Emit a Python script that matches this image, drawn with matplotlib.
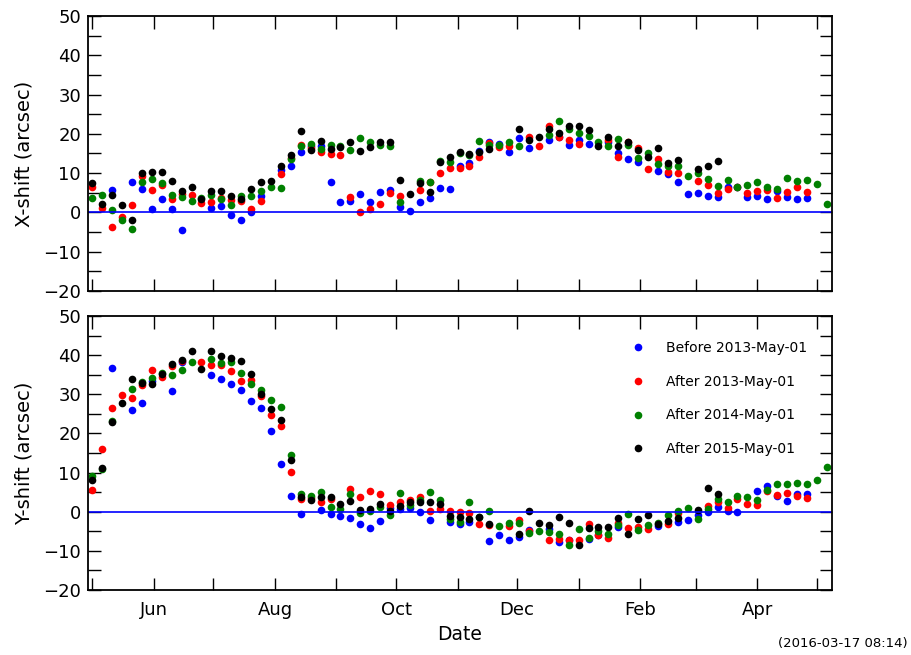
import matplotlib
matplotlib.use('Agg')
import matplotlib.pyplot as plt
import matplotlib.dates as mdates
from matplotlib.ticker import MultipleLocator
import numpy as np
import pandas as pd

nan = np.nan

# observation dates, one every 5 days
dates = pd.date_range('2014-05-01', periods=75, freq='5D')

labels = ['Before 2013-May-01', 'After 2013-May-01', 'After 2014-May-01', 'After 2015-May-01']
colors = ['blue', 'red', 'green', 'black']

# X-shift (arcsec)
x_before13 = [nan, nan, 5.8, nan, 7.8, 6.0, 1.0, 3.3, 1.0, -4.4, nan, nan, 1.2, 1.6, -0.6, -2.0, 0.2, 4.2, nan, 10.8,
              11.9, 15.4, 16.8, 16.8, 7.7, 2.6, 3.0, 4.7, 2.7, 5.2, 5.7, 1.5, 0.4, 2.6, 3.8, 6.2, 6.0, 11.7, 12.5, 15.7,
              18.0, 17.4, 15.5, 18.9, 16.3, nan, 18.5, 19.3, 17.2, 18.5, 17.4, nan, 18.0, 15.1, 13.5, 12.9, nan, 10.6, 9.7, 7.8,
              4.8, 4.9, 4.3, 4.0, 6.6, 6.6, 4.0, 4.3, 3.4, 5.5, 4.0, 3.5, 3.8, nan, nan]
x_after13 = [6.4, 1.2, -3.7, -1.1, 2.0, 9.3, 5.6, 6.9, 3.3, 4.7, 4.5, 2.5, 2.6, 3.8, 3.1, 2.9, 1.0, 3.0, nan, 9.8,
             13.9, 17.1, 16.3, 15.5, 14.8, 14.6, 4.0, 0.0, 0.8, 2.1, 4.9, 4.3, nan, 5.7, 7.8, 10.0, 11.4, 11.3, 11.7, 14.0,
             17.6, 16.6, 17.0, nan, 19.1, 16.8, 22.0, 19.3, 18.4, 17.5, nan, nan, 18.5, 14.2, 17.8, 16.5, 11.0, 13.5, 10.3, 10.0,
             nan, 8.1, 7.1, 5.0, 6.0, 6.6, 5.0, 5.4, 5.7, 3.8, 5.2, 6.4, 5.3, nan, nan]
x_after14 = [3.8, 4.5, 0.7, -2.0, -4.1, 7.8, 8.5, 7.6, 4.5, 4.0, 2.8, 3.7, 4.5, 3.4, 1.8, 4.1, 4.3, 5.4, 6.6, 6.1,
             13.6, 16.8, 17.4, 16.2, 17.2, 17.0, 15.9, 18.9, 17.8, 17.2, 17.0, 2.6, nan, 8.0, 7.7, 13.0, 12.9, 15.1, 14.6, 18.2,
             17.2, 17.2, 17.9, 17.0, nan, nan, 19.7, 23.2, 21.3, 20.1, 19.5, 17.9, 16.9, 18.8, 17.2, 13.8, 15.1, 12.3, 11.7, 11.7,
             9.4, 10.0, 8.5, 6.7, 8.2, 6.6, 6.9, 7.7, 6.4, 6.0, 8.7, 7.9, 8.3, 7.2, 2.2]
x_after15 = [7.4, 2.1, 4.5, 1.9, -2.0, 10.0, 10.4, 10.2, 7.9, 5.5, 6.4, 3.3, 5.5, 5.4, 4.2, 3.4, 6.0, 7.8, 8.0, 11.7,
             14.6, 20.6, 15.9, 18.3, 16.1, 16.7, 17.8, 15.7, 16.6, 17.9, 17.9, 8.2, 4.8, 7.5, 5.1, 12.9, 14.1, 15.4, 14.8, 15.5,
             16.2, nan, nan, 21.2, 18.5, 19.3, 21.3, 20.2, 22.0, 22.1, 20.9, 16.8, 19.1, 16.9, 18.0, 15.9, 14.0, 16.5, 12.7, 13.4,
             nan, 11.0, 11.8, 13.2, nan, nan, nan, nan, nan, nan, nan, nan, nan, nan, nan]

# Y-shift (arcsec)
y_before13 = [nan, nan, 36.7, nan, 26.1, 27.8, 33.3, nan, 30.9, 38.2, nan, nan, 34.8, 34.0, 32.5, 31.1, 28.2, 26.5, 20.6, 12.2,
              3.9, -0.5, nan, 0.5, -0.5, -1.1, -1.7, -3.2, -4.2, -2.3, 0.9, 0.7, 0.9, 0.0, -2.1, nan, -2.5, -3.2, -2.5, nan,
              -7.4, -6.0, -7.3, -6.5, -4.6, nan, -4.3, -7.8, -7.2, nan, -6.9, -6.0, nan, -3.9, nan, nan, nan, -3.7, nan, -2.6,
              -2.0, -0.9, 0.0, 1.1, 0.3, 0.0, nan, 5.4, 6.6, 4.1, 2.8, 4.6, 4.6, nan, nan]
y_after13 = [5.6, 16.0, 26.4, 29.8, 29.0, 32.3, 36.3, 34.3, 37.1, 38.4, nan, 38.2, 37.5, 37.4, 36.0, 33.5, 33.7, 29.6, 24.6, 21.8,
             10.1, 3.3, 3.5, 2.6, 3.2, nan, 5.9, 3.8, 5.3, 4.6, 1.8, 2.6, 2.9, 3.7, 0.3, 0.7, 0.1, -0.1, -0.2, -3.2,
             -3.5, nan, -3.6, -2.2, -5.0, nan, -7.3, -6.9, -7.2, -7.2, -3.2, -5.9, -6.7, -2.9, -4.2, -3.9, -4.3, nan, -3.1, -0.3,
             nan, nan, 1.5, 2.6, 0.9, 3.3, 2.0, 1.6, 5.2, 4.3, 4.9, 4.1, 3.5, nan, nan]
y_after14 = [9.2, 10.9, 23.1, nan, 31.3, 33.2, 34.2, 35.4, 34.8, 36.2, 38.2, nan, 39.0, 38.1, 38.2, 35.5, 32.7, 31.1, 28.6, 26.8,
             14.6, 4.6, 4.1, 5.0, 1.2, 0.6, 4.5, -0.3, 0.1, 1.2, -0.9, 4.9, 1.8, 2.9, 5.0, 2.9, -1.8, -2.5, 2.5, -1.4,
             0.1, -3.7, -2.9, -3.0, -5.5, -4.9, -5.3, -5.7, -8.5, -4.3, -6.6, -5.0, -5.6, -3.3, -0.5, -4.6, -3.3, -2.9, -0.8, 0.3,
             0.9, -1.9, 0.7, 3.2, 2.4, 4.1, 3.7, 3.1, 5.6, 7.1, 7.1, 7.4, 7.2, 8.2, 11.3]
y_after15 = [8.2, 11.2, 22.9, 27.7, 33.8, 33.0, 32.5, 35.2, 37.8, 38.7, 41.0, 36.5, 41.0, 39.9, 39.3, 38.6, 35.3, 30.1, 26.3, 23.4,
             13.3, 3.7, 3.0, 3.8, 3.8, 2.0, 2.8, 0.4, 0.8, 2.0, 0.1, 1.4, 2.4, 2.4, 2.6, 2.1, -1.2, -1.4, -1.8, -1.4,
             -3.2, nan, nan, -5.6, 0.3, -3.0, -3.5, -1.4, -3.0, -8.4, -4.2, -4.0, -4.0, -1.6, -5.7, -1.8, -0.8, -3.1, -2.3, -1.6,
             nan, 0.5, 6.1, 4.6, nan, nan, nan, nan, nan, nan, nan, nan, nan, nan, nan]

x_series = [x_before13, x_after13, x_after14, x_after15]
y_series = [y_before13, y_after13, y_after14, y_after15]

fig = plt.figure(figsize=(9.12, 6.55), dpi=100)
ax1 = fig.add_axes([0.0965, 0.5557, 0.8155, 0.4199])
ax2 = fig.add_axes([0.0965, 0.0992, 0.8155, 0.4184])

for ax, series, ylab in [(ax1, x_series, 'X-shift (arcsec)'), (ax2, y_series, 'Y-shift (arcsec)')]:
    for vals, c, lab in zip(series, colors, labels):
        ax.plot(dates, vals, 'o', color=c, markersize=5.5, markeredgewidth=0, label=lab)
    ax.axhline(0, color='blue', lw=1.2)
    ax.set_ylim(-20, 50)
    ax.set_xlim(pd.Timestamp('2014-04-28 20:00'), pd.Timestamp('2015-05-08 12:00'))
    ax.set_ylabel(ylab, fontsize=14, labelpad=7)
    ax.yaxis.set_major_locator(MultipleLocator(10))
    ax.yaxis.set_minor_locator(MultipleLocator(5))
    ax.xaxis.set_major_locator(mdates.MonthLocator(bymonth=[2, 4, 6, 8, 10, 12]))
    ax.xaxis.set_minor_locator(mdates.MonthLocator())
    ax.xaxis.set_major_formatter(mdates.DateFormatter('%b'))
    ax.tick_params(which='both', direction='in', top=True, right=True, length=9, width=1, labelsize=13)
    ax.tick_params(axis='x', pad=8)
    ax.tick_params(axis='y', pad=5)
    for sp in ax.spines.values():
        sp.set_linewidth(1.3)

ax1.set_xticklabels([])
ax2.set_xlabel('Date', fontsize=13.5)
ax2.legend(loc='upper right', frameon=False, numpoints=1, fontsize=10, labelspacing=1.42,
           handletextpad=1.0, borderaxespad=1.4)

fig.text(0.995, 0.008, '(2016-03-17 08:14)', ha='right', va='bottom', fontsize=9.5)

plt.savefig('out.png', dpi=100)
